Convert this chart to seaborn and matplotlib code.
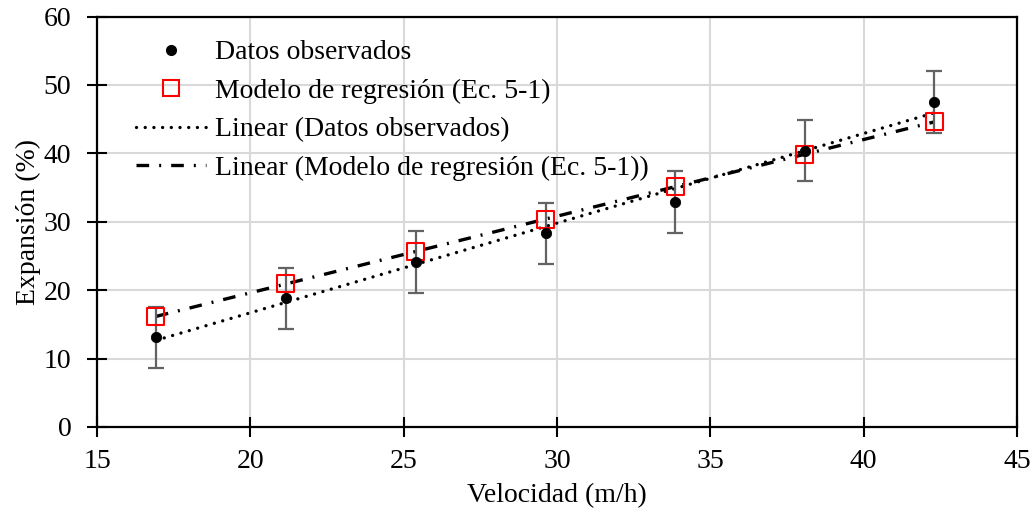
import numpy as np
import pandas as pd
import matplotlib
matplotlib.use("Agg")
import matplotlib.pyplot as plt
from matplotlib.lines import Line2D
import seaborn as sns

# Velocidad de flujo (m/h) y expansión del lecho (%)
velocidad = [16.92, 21.15, 25.40, 29.63, 33.85, 38.08, 42.30]
expansion_obs = [13.1, 18.8, 24.1, 28.3, 32.9, 40.4, 47.5]
expansion_modelo = [16.1, 21.0, 25.6, 30.4, 35.2, 39.8, 44.6]
error_obs = [4.5, 4.5, 4.5, 4.5, 4.5, 4.5, 4.5]

x_ticks = [15, 20, 25, 30, 35, 40, 45]
y_ticks = [0, 10, 20, 30, 40, 50, 60]

label_obs = "Datos observados"
label_mod = "Modelo de regresión (Ec. 5-1)"
label_lin_obs = "Linear (Datos observados)"
label_lin_mod = "Linear (Modelo de regresión (Ec. 5-1))"

df = pd.DataFrame({"v": velocidad, "obs": expansion_obs,
                   "mod": expansion_modelo, "err": error_obs})

sns.set_theme(style="ticks")
plt.rcParams["font.family"] = ["Liberation Serif", "DejaVu Serif"]
FS = 20
plt.rcParams.update({"font.size": FS, "text.color": "black",
                     "axes.labelcolor": "black", "xtick.color": "black",
                     "ytick.color": "black"})

fig = plt.figure(figsize=(10.34, 5.14), dpi=100)
ax = fig.add_axes([97 / 1034, 1 - 427 / 514, 920 / 1034, 410.5 / 514])

grid_c = "#d9d9d9"
ax.grid(True, color=grid_c, linewidth=1.5)
ax.set_axisbelow(True)

# Líneas de tendencia lineal
LW = 2.4
dot_style = (0, (0.01, 2.6))
dashdot_style = (0, (3.8, 3.0, 0.6, 3.0))
sns.regplot(data=df, x="v", y="obs", ax=ax, scatter=False, ci=None,
            line_kws=dict(color="black", lw=LW, linestyle=dot_style,
                          dash_capstyle="round", zorder=3))
sns.regplot(data=df, x="v", y="mod", ax=ax, scatter=False, ci=None,
            line_kws=dict(color="black", lw=LW, linestyle=dashdot_style,
                          zorder=3))

# Barras de error de los datos observados
ax.errorbar(df["v"], df["obs"], yerr=df["err"], fmt="none",
            ecolor="#636363", elinewidth=1.6, capsize=6, capthick=1.6, zorder=4)

sns.scatterplot(data=df, x="v", y="mod", ax=ax, marker="s", s=150,
                facecolor="none", edgecolor="#ff0000", linewidth=1.5, zorder=5)
sns.scatterplot(data=df, x="v", y="obs", ax=ax, marker="o", s=55,
                color="black", edgecolor="black", zorder=6)

ax.set_xlim(x_ticks[0], x_ticks[-1])
ax.set_ylim(y_ticks[0], y_ticks[-1])
ax.set_xticks(x_ticks)
ax.set_yticks(y_ticks)
ax.set_xlabel("Velocidad (m/h)", fontsize=FS, labelpad=7)
ax.set_ylabel("Expansión (%)", fontsize=FS, labelpad=2)
ax.tick_params(axis="both", direction="inout", length=15, width=1.5,
               color="black", labelsize=FS, labelcolor="black",
               bottom=True, left=True, top=False, right=False)
ax.tick_params(axis="x", pad=8)
ax.tick_params(axis="y", pad=11)
for s in ax.spines.values():
    s.set_color("black")
    s.set_linewidth(1.6)
    s.set_visible(True)

handles = [
    Line2D([], [], marker="o", color="black", linestyle="none", markersize=7),
    Line2D([], [], marker="s", markerfacecolor="none", markeredgecolor="#ff0000",
           markeredgewidth=1.5, linestyle="none", markersize=12),
    Line2D([], [], color="black", lw=LW, linestyle=dot_style, dash_capstyle="round"),
    Line2D([], [], color="black", lw=LW, linestyle=dashdot_style),
]
labels = [label_obs, label_mod, label_lin_obs, label_lin_mod]
ax.legend(handles, labels, loc="upper left", bbox_to_anchor=(0.042, 0.943),
          frameon=False, fontsize=FS, handlelength=2.55, handletextpad=0.3,
          borderpad=0, borderaxespad=0, labelspacing=0.47, labelcolor="black")

fig.savefig("out.png", dpi=100)
